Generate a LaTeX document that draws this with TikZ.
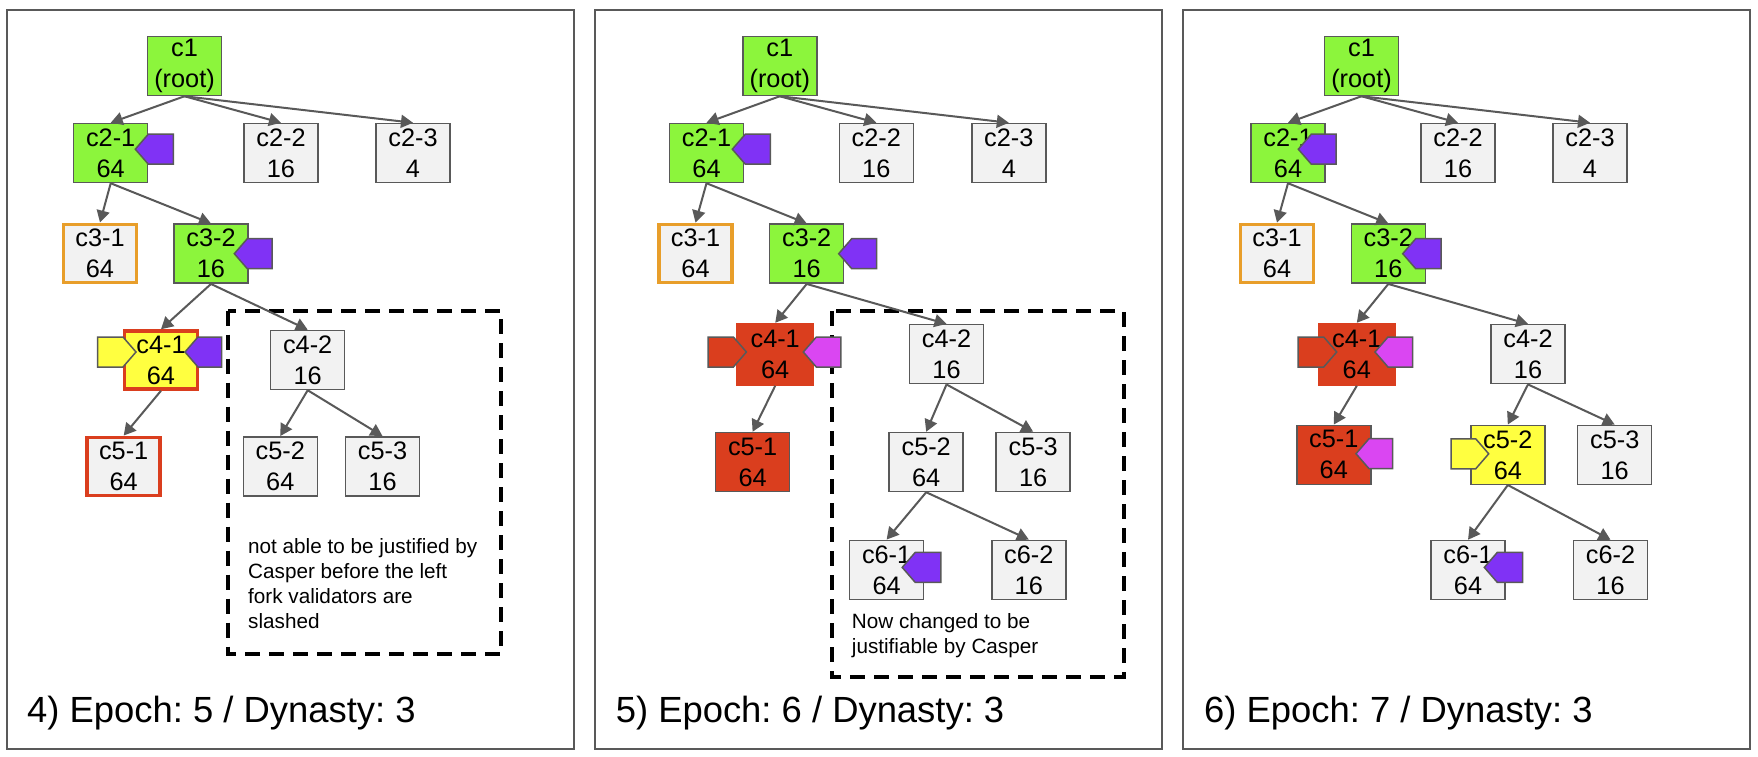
\documentclass[tikz,border=0pt]{standalone}
\usepackage{fontspec}
\setmainfont{Liberation Sans}
\usetikzlibrary{arrows.meta}
\frenchspacing
\definecolor{ngreen}{RGB}{140,245,60}
\definecolor{ngray}{RGB}{242,242,242}
\definecolor{lgray}{RGB}{89,89,89}
\definecolor{norange}{RGB}{232,158,42}
\definecolor{nred}{RGB}{218,62,30}
\definecolor{nyellow}{RGB}{255,255,64}
\definecolor{npurple}{RGB}{128,50,245}
\definecolor{nmagenta}{RGB}{218,70,242}
\tikzset{
  blk/.style={draw=lgray, line width=1.5pt, fill=ngray, minimum width=74pt, minimum height=59pt,
    inner sep=0pt, align=center, font=\fontsize{25.3}{31}\selectfont},
  gblk/.style={blk, fill=ngreen},
  oblk/.style={blk, draw=norange, line width=3.5pt, minimum width=73pt, minimum height=58pt},
  rbord/.style={blk, draw=nred, line width=3.5pt, minimum width=73pt, minimum height=58pt},
  redblk/.style={blk, fill=nred},
  redfull/.style={blk, fill=nred, draw=nred, minimum width=77pt, minimum height=61.5pt},
  yblk/.style={blk, fill=nyellow},
  conn/.style={draw=lgray, line width=2pt, -{Triangle[length=12pt,width=13pt]}},
  flagst/.style={draw=lgray, line width=1.5pt, line join=miter},
  frame/.style={draw=lgray, line width=2pt},
  dashbox/.style={draw=black, line width=4pt, dash pattern=on 15pt off 9pt},
  note/.style={anchor=base west, inner sep=0pt, font=\fontsize{20.7}{25}\selectfont},
  title/.style={anchor=base west, inner sep=0pt, font=\fontsize{36.4}{40}\selectfont}
}
% flag pointing left: tip at (#2,#3), far (right) edge x = #4
\newcommand\flagpl[4]{\draw[flagst,fill=#1] (#2,#3) -- (#2+13,#3-15) -- (#4,#3-15) -- (#4,#3+15) -- (#2+13,#3+15) -- cycle;}
% flag pointing right: tip at (#2,#3), far (left) edge x = #4
\newcommand\flagpr[4]{\draw[flagst,fill=#1] (#2,#3) -- (#2-13,#3-15) -- (#4,#3-15) -- (#4,#3+15) -- (#2-13,#3+15) -- cycle;}
\begin{document}
\begin{tikzpicture}[x=1pt,y=-1pt]
\useasboundingbox (0,0) rectangle (1758,757);
\fill[white] (0,0) rectangle (1758,757);
% frames
\draw[frame] (7,10) rectangle (574,749);
\draw[frame] (595,10) rectangle (1162,749);
\draw[frame] (1183,10) rectangle (1750,749);
% dashed boxes (behind everything)
\draw[dashbox] (228.3,310.7) rectangle (500.7,654);
\draw[dashbox] (832.4,311) rectangle (1123.5,677.3);

% ---------------- panel 1 ----------------
\node[gblk] (a1) at (184.5,66) {c1\\(root)};
\node[gblk] (a21) at (110.7,153) {c2-1\\64};
\node[blk] (a22) at (281,153) {c2-2\\16};
\node[blk] (a23) at (413,153) {c2-3\\4};
\node[oblk] (a31) at (100,253.3) {c3-1\\64};
\node[gblk] (a32) at (211,253.7) {c3-2\\16};
\node[rbord, fill=nyellow] (a41) at (161,360) {c4-1\\64};
\node[blk] (a42) at (307.7,360) {c4-2\\16};
\node[rbord] (a51) at (123.7,466.3) {c5-1\\64};
\node[blk] (a52) at (280.3,466.3) {c5-2\\64};
\node[blk] (a53) at (382.5,466.3) {c5-3\\16};
\foreach \p/\c in {a1/a21,a1/a22,a1/a23,a21/a31,a21/a32,a32/a41,a32/a42,a41/a51,a42/a52,a42/a53}
  \draw[conn] (\p.south) -- (\c.north);
\flagpl{npurple}{135.3}{149.2}{173.3}
\flagpl{npurple}{234.3}{253.7}{272}
\flagpr{nyellow}{136}{352}{97.7}
\flagpl{npurple}{185}{352}{221.7}
\node[note] (t1a) at (248,553) {not able to be justified by};
\node[note] (t1b) at (248,578.3) {Casper before the left};
\node[note] (t1c) at (248,603.6) {fork validators are};
\node[note] (t1d) at (248,628.9) {slashed};
\node[title] (h1) at (27,722) {4) Epoch: 5 / Dynasty: 3};

% ---------------- panel 2 ----------------
\node[gblk] (b1) at (779.8,66) {c1\\(root)};
\node[gblk] (b21) at (706.5,153) {c2-1\\64};
\node[blk] (b22) at (876.3,153) {c2-2\\16};
\node[blk] (b23) at (1008.8,153) {c2-3\\4};
\node[oblk] (b31) at (695.5,253.3) {c3-1\\64};
\node[gblk] (b32) at (806.7,253.7) {c3-2\\16};
\node[redfull] (b41) at (775.2,354.3) {c4-1\\64};
\node[blk] (b42) at (946.5,354.2) {c4-2\\16};
\node[redblk] (b51) at (752.6,462) {c5-1\\64};
\node[blk] (b52) at (926.2,462) {c5-2\\64};
\node[blk] (b53) at (1033.2,462) {c5-3\\16};
\node[blk] (b61) at (886.6,569.8) {c6-1\\64};
\node[blk] (b62) at (1028.8,569.8) {c6-2\\16};
\foreach \p/\c in {b1/b21,b1/b22,b1/b23,b21/b31,b21/b32,b32/b41,b32/b42,b41/b51,b42/b52,b42/b53,b52/b61,b52/b62}
  \draw[conn] (\p.south) -- (\c.north);
\flagpl{npurple}{732.3}{149.2}{770.3}
\flagpl{npurple}{838.7}{253.7}{876.7}
\flagpr{nred}{746.4}{352}{708.2}
\flagpl{nmagenta}{803.3}{352}{840.8}
\flagpl{npurple}{902.2}{567.4}{940.8}
\node[note] (t2a) at (851.7,628) {Now changed to be};
\node[note] (t2b) at (851.7,653.3) {justifiable by Casper};
\node[title] (h2) at (615.6,722) {5) Epoch: 6 / Dynasty: 3};

% ---------------- panel 3 ----------------
\node[gblk] (c1) at (1361.5,66) {c1\\(root)};
\node[gblk] (c21) at (1288,153) {c2-1\\64};
\node[blk] (c22) at (1458,153) {c2-2\\16};
\node[blk] (c23) at (1590,153) {c2-3\\4};
\node[oblk] (c31) at (1277,253.3) {c3-1\\64};
\node[gblk] (c32) at (1388.3,253.7) {c3-2\\16};
\node[redfull] (c41) at (1356.8,354.3) {c4-1\\64};
\node[blk] (c42) at (1528,354.2) {c4-2\\16};
\node[redblk] (c51) at (1333.8,454.8) {c5-1\\64};
\node[yblk] (c52) at (1507.8,454.8) {c5-2\\64};
\node[blk] (c53) at (1614.7,454.8) {c5-3\\16};
\node[blk] (c61) at (1468,570) {c6-1\\64};
\node[blk] (c62) at (1610.5,570) {c6-2\\16};
\foreach \p/\c in {c1/c21,c1/c22,c1/c23,c21/c31,c21/c32,c32/c41,c32/c42,c41/c51,c42/c52,c42/c53,c52/c61,c52/c62}
  \draw[conn] (\p.south) -- (\c.north);
\flagpl{npurple}{1298.3}{149.2}{1336}
\flagpl{npurple}{1402.7}{253.7}{1441}
\flagpr{nred}{1336.7}{352}{1298}
\flagpl{nmagenta}{1375}{352}{1412.7}
\flagpl{nmagenta}{1356}{453.7}{1392.7}
\flagpr{nyellow}{1488.7}{453.8}{1451}
\flagpl{npurple}{1484.3}{567.4}{1522.7}
\node[title] (h3) at (1204,722) {6) Epoch: 7 / Dynasty: 3};
\end{tikzpicture}
\end{document}
